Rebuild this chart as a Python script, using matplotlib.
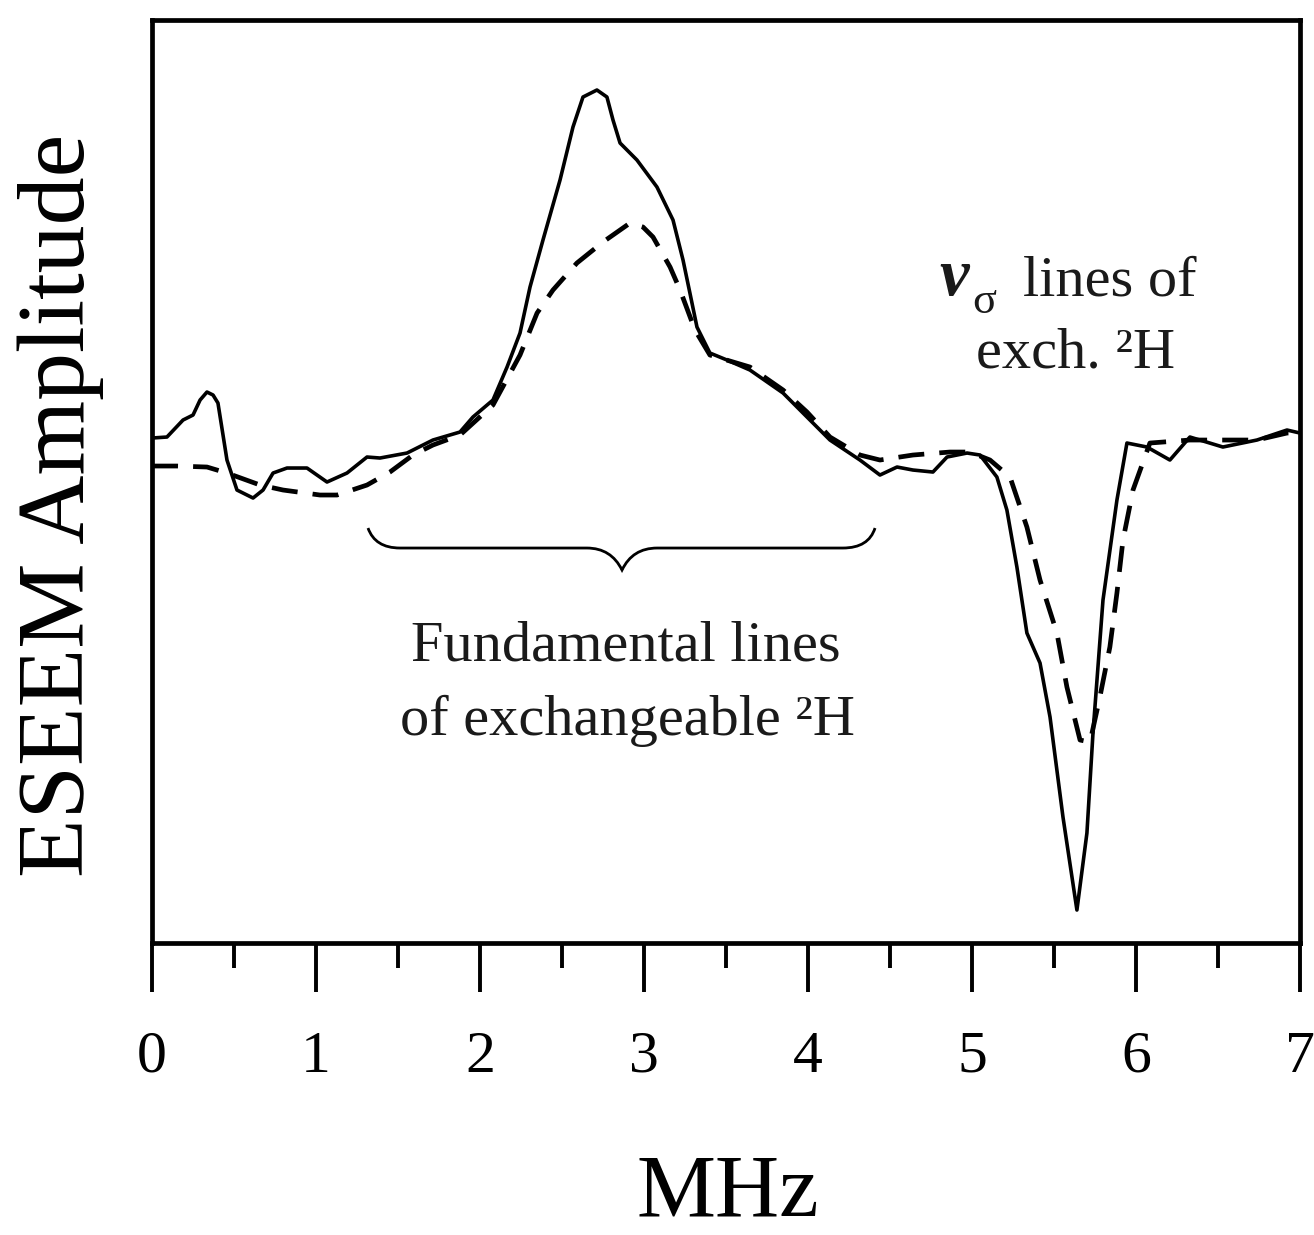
import matplotlib
matplotlib.use("Agg")
import matplotlib.pyplot as plt
from matplotlib.path import Path
from matplotlib.patches import PathPatch
from matplotlib.ticker import MultipleLocator

plt.rcParams['font.family'] = ['Liberation Serif', 'DejaVu Serif']

# solid trace (MHz, arbitrary amplitude)
freq_solid = [0.000, 0.091, 0.189, 0.250, 0.293, 0.335, 0.372, 0.402, 0.457, 0.518,
              0.616, 0.677, 0.738, 0.823, 0.945, 1.067, 1.189, 1.311, 1.390, 1.555,
              1.713, 1.878, 1.957, 2.079, 2.165, 2.244, 2.305, 2.384, 2.488, 2.567,
              2.628, 2.713, 2.774, 2.811, 2.854, 2.957, 3.079, 3.177, 3.238, 3.280,
              3.323, 3.402, 3.506, 3.646, 3.848, 3.994, 4.134, 4.317, 4.439, 4.543,
              4.640, 4.762, 4.848, 4.970, 5.049, 5.152, 5.213, 5.274, 5.335, 5.415,
              5.476, 5.555, 5.640, 5.701, 5.738, 5.799, 5.884, 5.945, 6.067, 6.207,
              6.329, 6.530, 6.738, 6.921, 7.000]
amp_solid = [5.05, 5.06, 5.23, 5.28, 5.43, 5.51, 5.48, 5.40, 4.83, 4.53,
             4.45, 4.53, 4.70, 4.75, 4.75, 4.61, 4.70, 4.86, 4.85, 4.90,
             5.03, 5.11, 5.26, 5.43, 5.76, 6.10, 6.56, 7.03, 7.63, 8.16,
             8.46, 8.53, 8.46, 8.23, 8.00, 7.83, 7.56, 7.23, 6.83, 6.50,
             6.16, 5.90, 5.83, 5.73, 5.50, 5.26, 5.03, 4.83, 4.68, 4.76,
             4.73, 4.71, 4.86, 4.90, 4.88, 4.66, 4.33, 3.76, 3.10, 2.80,
             2.26, 1.26, 0.33, 1.10, 2.10, 3.43, 4.43, 5.00, 4.96, 4.83,
             5.06, 4.96, 5.03, 5.13, 5.10]

# dashed trace
freq_dash = [0.000, 0.152, 0.335, 0.457, 0.659, 0.799, 1.024, 1.128, 1.311, 1.451,
             1.591, 1.713, 1.878, 2.079, 2.244, 2.348, 2.445, 2.591, 2.750, 2.915,
             2.994, 3.055, 3.159, 3.220, 3.311, 3.402, 3.646, 3.848, 3.994, 4.134,
             4.317, 4.439, 4.640, 4.866, 4.988, 5.110, 5.232, 5.335, 5.415, 5.518,
             5.579, 5.659, 5.720, 5.780, 5.841, 5.884, 5.921, 5.982, 6.085, 6.329,
             6.530, 6.738, 6.921, 7.000]
amp_dash = [4.77, 4.77, 4.76, 4.70, 4.58, 4.53, 4.48, 4.48, 4.58, 4.71,
            4.88, 4.98, 5.08, 5.38, 5.88, 6.30, 6.53, 6.80, 7.01, 7.20,
            7.16, 7.06, 6.76, 6.53, 6.13, 5.88, 5.76, 5.53, 5.31, 5.06,
            4.88, 4.83, 4.88, 4.91, 4.91, 4.83, 4.66, 4.16, 3.63, 3.10,
            2.56, 2.03, 2.01, 2.46, 2.96, 3.50, 4.03, 4.53, 5.00, 5.03,
            5.03, 5.03, 5.10, 5.10]

xticks = [0, 1, 2, 3, 4, 5, 6, 7]

fig = plt.figure(figsize=(13.14, 12.35), dpi=100)
ax = fig.add_axes([0.1157, 0.2364, 0.8736, 0.7474])

ax.plot(freq_solid, amp_solid, color='black', lw=2.6,
        solid_joinstyle='round', solid_capstyle='round')
ax.plot(freq_dash, amp_dash, color='black', lw=3.4, dashes=(5.5, 3.2),
        dash_joinstyle='round')

ax.set_xlim(0, 7)
ax.set_ylim(0, 9.23)
ax.set_yticks([])
ax.set_xticks(xticks)
ax.set_xticklabels([str(t) for t in xticks])
ax.xaxis.set_minor_locator(MultipleLocator(0.5))
ax.tick_params(axis='x', which='major', direction='out', length=35, width=2.8,
               labelsize=43, pad=28)
ax.tick_params(axis='x', which='minor', direction='out', length=18, width=2.8)
for sp in ax.spines.values():
    sp.set_linewidth(3.4)

ax.set_ylabel('ESEEM Amplitude', fontsize=69)
ax.yaxis.set_label_coords(-0.042, 0.4745)
ax.set_xlabel('MHz', fontsize=64, va='top')
ax.xaxis.set_label_coords(0.5017, -0.228)

# curly brace under the fundamental lines
verts = [(1.317, 4.15), (1.36, 3.95), (1.512, 3.95),
         (2.652, 3.95), (2.80, 3.95), (2.866, 3.73),
         (2.93, 3.95), (3.08, 3.95),
         (4.213, 3.95), (4.37, 3.95), (4.409, 4.15)]
codes = [Path.MOVETO, Path.CURVE3, Path.CURVE3,
         Path.LINETO, Path.CURVE3, Path.CURVE3,
         Path.CURVE3, Path.CURVE3,
         Path.LINETO, Path.CURVE3, Path.CURVE3]
ax.add_patch(PathPatch(Path(verts, codes), fill=False, lw=2.0, color='black'))

txt_color = '#1a1a1a'
ax.text(2.89, 2.83, 'Fundamental lines', fontsize=42, ha='center',
        va='baseline', color=txt_color)
ax.text(2.90, 2.08, 'of exchangeable \u00b2H', fontsize=42, ha='center',
        va='baseline', color=txt_color)

ax.text(4.80, 6.48, '\u03bd', fontsize=48, fontweight='bold', fontstyle='italic',
        ha='left', va='baseline', color=txt_color)
ax.text(5.00, 6.30, '\u03c3', fontsize=32, ha='left', va='baseline', color=txt_color)
ax.text(5.31, 6.48, 'lines of', fontsize=42, ha='left', va='baseline', color=txt_color)
ax.text(5.63, 5.76, 'exch. \u00b2H', fontsize=42, ha='center', va='baseline',
        color=txt_color)

fig.savefig('out.png', dpi=100)
